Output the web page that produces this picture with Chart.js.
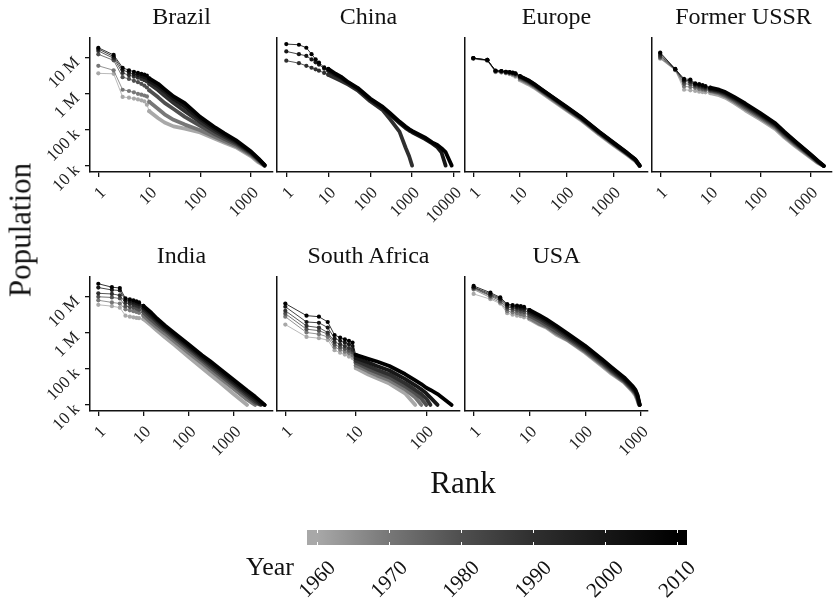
<!DOCTYPE html>
<html>
<head>
<meta charset="utf-8">
<script src="https://cdn.jsdelivr.net/npm/chart.js@4.4.1/dist/chart.umd.min.js"></script>
<style>
  body { margin: 0; background: #fff; }
  #page { position: relative; width: 836px; height: 603px; overflow: hidden; font-family: "Liberation Serif", "Times New Roman", serif; color: #111; }
  #page canvas { position: absolute; left: 0; top: 0; }
  .txt { position: absolute; white-space: nowrap; line-height: 1; }
</style>
</head>
<body>
<div id="page"></div>
<script>
// years shown by the grey scale (light = 1960, black = 2010)
const years = [1960, 1970, 1980, 1990, 2000, 2010];
const yearColors = ['#a8a8a8', '#777777', '#4f4f4f', '#2f2f2f', '#171717', '#000000'];
const countries = ['Brazil', 'China', 'Europe', 'Former USSR', 'India', 'South Africa', 'USA'];
const xTickValues = [1, 10, 100, 1000, 10000];
const yTickValues = [10, 100, 1000, 10000]; // population in thousands
const yTickLabels = ['10 k', '100 k', '1 M', '10 M'];

// population (thousands) by rank, one row per year 1960..2010
const brazilRanks = [1, 2, 3, 4, 5, 6, 7, 8, 9, 10, 15, 20, 30, 50, 100, 200, 300, 500, 1000, 1400, 1850];
const brazilPop = [
  [3700, 3600, 820, 780, 740, 700, 660, 620, 500, 330, 210, 160, 125, 108, 85, 56, 44, 33, 18.5, 12.5, 10],
  [6000, 4500, 1300, 1200, 1100, 1000, 950, 900, 850, 600, 380, 270, 190, 140, 98, 62, 48, 36, 20, 13.5, 10],
  [12500, 8500, 2900, 2600, 2300, 2100, 1900, 1700, 1500, 1250, 800, 560, 380, 230, 130, 74, 56, 40, 21.5, 14.5, 10.2],
  [15500, 9700, 3800, 3300, 3000, 2800, 2600, 2400, 2200, 1900, 1250, 880, 560, 330, 165, 88, 64, 44, 23, 15, 10.3],
  [17500, 10800, 4600, 3900, 3500, 3300, 3100, 2900, 2700, 2300, 1600, 1150, 720, 440, 200, 102, 72, 48, 24, 15.5, 10.5],
  [19000, 12000, 5300, 4500, 4100, 3800, 3600, 3400, 3200, 2700, 1900, 1350, 850, 550, 230, 115, 80, 52, 25, 16, 10.5]
];

const chinaRanks = [1, 2, 3, 4, 5, 6, 8, 10, 15, 20, 30, 50, 100, 200, 300, 500, 700, 850, 1000, 2000, 3000, 4000, 5000, 6300, 8800];
const chinaPop = [
  null,
  null,
  null,
  [8300, 7100, 6000, 5300, 4800, 4400, 3800, 3400, 2700, 2300, 1800, 1250, 620, 350, 195, 89, 32, 18.6, 10.2, null, null, null, null, null, null],
  [15000, 12600, 11300, 9000, 7500, 6500, 5000, 4400, 3300, 2800, 2000, 1400, 700, 400, 265, 155, 112, 96, 86, 56, 42, 33, 24, 10.2, null],
  [24000, 23000, 19000, 12600, 9100, 7400, 5400, 4900, 3600, 3000, 2100, 1470, 740, 435, 290, 170, 124, 105, 94, 62, 45, 38, 31, 24, 10.2]
];

const europeRanks = [1, 2, 3, 4, 5, 6, 7, 8, 10, 15, 20, 30, 50, 100, 200, 500, 1000, 2000, 3000, 3700];
const europePop = [
  [9300, 8200, 4000, 3900, 3700, 3500, 3300, 3000, 2400, 1850, 1500, 1050, 660, 350, 190, 74, 38, 20, 13.5, 10],
  [9500, 8400, 4100, 4000, 3800, 3650, 3500, 3200, 2600, 2000, 1600, 1120, 700, 370, 200, 78, 40, 21, 14, 10],
  [9700, 8600, 4200, 4100, 3900, 3800, 3650, 3400, 2800, 2150, 1700, 1180, 740, 390, 210, 82, 42, 21.5, 14.5, 10.1],
  [9700, 8700, 4300, 4200, 4000, 3900, 3750, 3550, 2950, 2250, 1780, 1230, 780, 410, 218, 85, 43, 22, 14.7, 10.1],
  [9800, 8700, 4350, 4250, 4050, 3950, 3850, 3650, 3050, 2350, 1850, 1270, 800, 425, 225, 87, 44, 22.5, 14.9, 10.2],
  [9800, 8700, 4400, 4300, 4100, 4000, 3900, 3700, 3100, 2400, 1900, 1300, 820, 435, 230, 89, 45, 23, 15, 10.2]
];

const ussrRanks = [1, 2, 3, 4, 5, 6, 7, 8, 10, 15, 20, 30, 50, 100, 200, 300, 500, 1000, 1400, 1850];
const ussrPop = [
  [9400, 4500, 1300, 1250, 1200, 1150, 1120, 1100, 1050, 920, 780, 560, 350, 195, 105, 62, 35, 17, 12, 10],
  [9800, 4600, 1600, 1550, 1450, 1350, 1300, 1250, 1180, 1020, 860, 620, 390, 215, 115, 68, 38, 18, 12.5, 10],
  [10500, 4700, 1900, 1850, 1600, 1500, 1400, 1350, 1250, 1100, 930, 680, 430, 235, 125, 74, 41, 19, 13, 10],
  [11500, 4800, 2200, 2100, 1750, 1650, 1550, 1450, 1330, 1170, 1000, 730, 470, 255, 135, 80, 44, 20, 13.5, 10],
  [13000, 4800, 2400, 2300, 1850, 1750, 1650, 1550, 1400, 1230, 1060, 780, 510, 275, 145, 85, 46, 20.5, 13.5, 10],
  [14000, 4900, 2600, 2500, 1950, 1850, 1750, 1650, 1480, 1300, 1120, 820, 540, 290, 152, 89, 48, 21, 14, 10]
];

const indiaRanks = [1, 2, 3, 4, 5, 6, 7, 8, 10, 15, 20, 30, 50, 100, 200, 300, 500, 1000, 2000, 3000, 4000, 4900];
const indiaPop = [
  [6000, 5500, 5000, 3000, 2800, 2700, 2600, 2550, 2400, 1600, 1150, 750, 450, 215, 105, 70, 42, 20, 10, null, null, null],
  [8000, 7000, 6500, 4500, 4200, 4000, 3800, 3600, 3000, 1900, 1400, 950, 560, 280, 140, 93, 56, 28, 14, 10, null, null],
  [10000, 9600, 9000, 5500, 5200, 5000, 4700, 4400, 3700, 2300, 1700, 1150, 680, 340, 170, 113, 68, 34, 17, 11.5, 10, null],
  [12500, 12000, 11000, 6800, 6400, 6000, 5700, 5300, 4400, 2800, 2000, 1300, 780, 390, 195, 130, 78, 39, 19.5, 13, 10.3, null],
  [18000, 15500, 15000, 8000, 7400, 7000, 6600, 6200, 5000, 3200, 2250, 1450, 870, 430, 215, 145, 88, 44, 22, 15, 11, 10],
  [23000, 18500, 17500, 9000, 8500, 8000, 7500, 7000, 5600, 3600, 2500, 1600, 960, 480, 240, 166, 100, 50, 25, 17, 12.5, 10]
];

const southAfricaRanks = [1, 2, 3, 4, 5, 6, 7, 8, 9, 10, 15, 20, 30, 50, 70, 85, 100, 115, 145, 230];
const southAfricaPop = [
  [1700, 770, 710, 630, 330, 280, 250, 220, 200, 105, 70, 55, 39, 21, 10, null, null, null, null, null],
  [2800, 1020, 920, 770, 400, 340, 300, 270, 240, 125, 85, 66, 48, 27, 16, 10, null, null, null, null],
  [3400, 1260, 1150, 920, 470, 400, 360, 320, 290, 150, 100, 80, 58, 33, 21, 15, 10, null, null, null],
  [4100, 1550, 1400, 1020, 560, 480, 430, 380, 340, 170, 120, 95, 70, 40, 26, 20, 15, 10, null, null],
  [5300, 2000, 1900, 1400, 700, 600, 540, 480, 430, 200, 150, 120, 90, 53, 35, 27, 21, 16, 10, null],
  [6500, 3000, 2800, 2000, 870, 740, 660, 600, 540, 245, 190, 160, 120, 72, 48, 38, 30, 26, 20, 10]
];

const usaRanks = [1, 2, 3, 4, 5, 6, 7, 8, 10, 15, 20, 30, 50, 100, 200, 300, 500, 700, 800, 870, 920, 950];
const usaPop = [
  [12000, 8600, 6500, 3500, 3200, 3000, 2900, 2700, 2400, 1700, 1400, 900, 600, 280, 120, 72, 42, 24, 18, 13, 10, null],
  [16000, 9500, 7000, 4000, 3700, 3500, 3300, 3100, 2600, 1800, 1500, 980, 620, 300, 130, 78, 43, 25.5, 19.5, 14, 10.5, null],
  [17000, 10500, 7700, 4600, 4300, 4100, 3900, 3700, 3000, 2150, 1650, 1100, 680, 325, 142, 85, 46, 27, 21, 15, 11, 10],
  [18000, 11000, 8500, 5200, 4900, 4700, 4500, 4300, 3500, 2500, 1900, 1300, 750, 360, 155, 92, 49, 29, 22, 16, 11.5, 10],
  [18500, 12000, 9000, 5700, 5400, 5200, 5000, 4800, 3900, 2800, 2150, 1450, 830, 395, 170, 100, 53, 31, 24, 17.5, 12, 10],
  [20000, 13000, 9600, 6300, 5900, 5700, 5500, 5300, 4300, 3100, 2400, 1600, 920, 435, 186, 110, 58, 34, 26, 19, 13, 10]
];

const countryRanks = [brazilRanks, chinaRanks, europeRanks, ussrRanks, indiaRanks, southAfricaRanks, usaRanks];
const countryPop = [brazilPop, chinaPop, europePop, ussrPop, indiaPop, southAfricaPop, usaPop];

// page layout
const pageW = 836, pageH = 603;
const panelW = 183, plotH = 134;
const colLeft = [90, 277, 465, 652];
const rowTop = [38, 277];
const yAxisW = 70, xAxisH = 60; // room for the rotated tick labels (scale boxes clip them)
const serif = '"Liberation Serif", "Times New Roman", serif';

const page = document.getElementById('page');

const addText = (text, x, y, size, transform) => {
    const el = document.createElement('div');
    el.className = 'txt';
    el.textContent = text;
    el.style.left = x + 'px';
    el.style.top = y + 'px';
    el.style.fontSize = size + 'px';
    el.style.transform = transform || 'translate(-50%, -50%)';
    page.appendChild(el);
    return el;
};

// shared y range, padded 5% like the original
const allValues = countryPop.flat(2).filter(v => v != null);
const yLo = Math.log10(Math.min(...allValues));
const yHi = Math.log10(Math.max(...allValues));
const yPad = (yHi - yLo) * 0.05;

countries.forEach((name, k) => {
    const col = k % 4;
    const row = Math.floor(k / 4);
    const left = colLeft[col];
    const top = rowTop[row];
    const ranks = countryRanks[k];

    let maxRank = 1;
    const datasets = [];
    countryPop[k].forEach((values, i) => {
        if (!values) return;
        const points = [];
        values.forEach((v, j) => {
            if (v == null) return;
            points.push({ x: ranks[j], y: v });
            maxRank = Math.max(maxRank, ranks[j]);
        });
        datasets.push({
            label: String(years[i]),
            data: points,
            borderColor: yearColors[i],
            backgroundColor: yearColors[i],
            order: years.length - i,
            borderWidth: 0.8,
            pointRadius: ctx => (ctx.raw && ctx.raw.x <= 10 ? 2.1 : 0),
            pointBorderWidth: 0,
            segment: {
                // many cities crowd together past rank 10, drawn as a heavier stroke
                borderWidth: ctx => (ctx.p0.parsed.x >= 10 ? 3.8 : 0.8)
            }
        });
    });

    const xSpan = Math.log10(maxRank);
    const xMin = 10 ** (-xSpan * 0.05);
    const xMax = 10 ** (xSpan * 1.05);

    const canvas = document.createElement('canvas');
    canvas.width = pageW;
    canvas.height = pageH;
    page.appendChild(canvas);

    new Chart(canvas, {
        type: 'line',
        data: { datasets },
        options: {
            responsive: false,
            animation: false,
            events: [],
            layout: {
                padding: {
                    left: left - yAxisW,
                    top: top,
                    right: pageW - left - panelW,
                    bottom: pageH - top - plotH - xAxisH
                }
            },
            plugins: {
                legend: { display: false },
                tooltip: { enabled: false }
            },
            elements: {
                line: { tension: 0, borderCapStyle: 'round', borderJoinStyle: 'round' }
            },
            scales: {
                x: {
                    type: 'logarithmic',
                    min: xMin,
                    max: xMax,
                    afterBuildTicks: scale => {
                        scale.ticks = xTickValues.filter(v => v >= xMin && v <= xMax).map(v => ({ value: v }));
                    },
                    afterFit: scale => {
                        scale.height = xAxisH;
                        scale.paddingLeft = 0;
                        scale.paddingRight = 0;
                    },
                    ticks: {
                        autoSkip: false,
                        minRotation: 45,
                        maxRotation: 45,
                        padding: 6,
                        labelOffset: 5,
                        color: '#222',
                        font: { family: serif, size: 17 },
                        callback: v => String(v)
                    },
                    grid: { drawOnChartArea: false, drawTicks: true, tickLength: 5, color: '#111', lineWidth: 1.3 },
                    border: { color: '#111', width: 1.5 }
                },
                y: {
                    type: 'logarithmic',
                    min: 10 ** (yLo - yPad),
                    max: 10 ** (yHi + yPad),
                    afterBuildTicks: scale => {
                        scale.ticks = yTickValues.map(v => ({ value: v }));
                    },
                    afterFit: scale => {
                        scale.width = yAxisW;
                        scale.paddingTop = 0;
                        scale.paddingBottom = 0;
                    },
                    ticks: {
                        display: col === 0,
                        minRotation: 45,
                        maxRotation: 45,
                        padding: 8,
                        labelOffset: 2,
                        color: '#222',
                        font: { family: serif, size: 17 },
                        callback: v => yTickLabels[yTickValues.indexOf(v)]
                    },
                    grid: { drawOnChartArea: false, drawTicks: col === 0, tickLength: 5, color: '#111', lineWidth: 1.3 },
                    border: { color: '#111', width: 1.5 }
                }
            }
        }
    });

    addText(name, left + panelW / 2, top - 34, 24, 'translate(-50%, 0)');
});

// axis titles
addText('Population', 20, 230, 31, 'translate(-50%, -50%) rotate(-90deg)');
addText('Rank', 463, 482, 31);

// colour bar legend
const barLeft = 307, barRight = 687, barTop = 530, barH = 15;
const firstTickX = 317, lastTickX = 677;
const yearX = y => firstTickX + (y - years[0]) / (years[years.length - 1] - years[0]) * (lastTickX - firstTickX);
const stops = years.map((y, i) => `${yearColors[i]} ${((yearX(y) - barLeft) / (barRight - barLeft) * 100).toFixed(1)}%`);
const bar = document.createElement('div');
bar.style.cssText = `position:absolute;left:${barLeft}px;top:${barTop}px;width:${barRight - barLeft}px;height:${barH}px;` +
    `background:linear-gradient(to right, ${yearColors[0]} 0%, ${stops.join(', ')}, ${yearColors[yearColors.length - 1]} 100%);`;
page.appendChild(bar);
years.forEach(y => {
    [barTop, barTop + barH - 3].forEach(t => {
        const tick = document.createElement('div');
        tick.style.cssText = `position:absolute;left:${yearX(y) - 0.5}px;top:${t}px;width:1px;height:3px;background:#fff;`;
        page.appendChild(tick);
    });
    addText(String(y), yearX(y), 579, 21, 'translate(-50%, -50%) rotate(-45deg)');
});
addText('Year', 270, 567, 26);
</script>
</body>
</html>
